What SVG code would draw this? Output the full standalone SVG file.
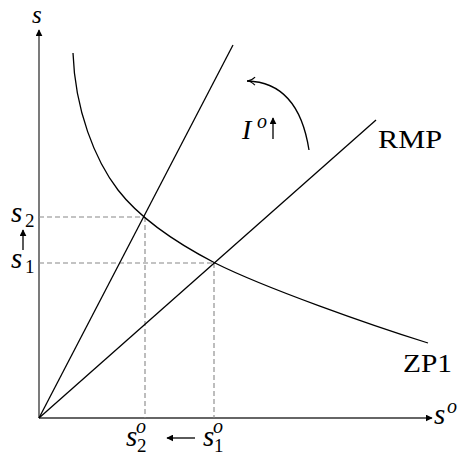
<svg xmlns="http://www.w3.org/2000/svg" width="463" height="458" viewBox="0 0 463 458">
<style>
.ln{fill:none;stroke:#000;stroke-width:1.3}
.ax{fill:none;stroke:#333;stroke-width:1.3}
.dash{fill:none;stroke:#888;stroke-width:1.1;stroke-dasharray:5,3}
text{font-family:'Liberation Serif','Times New Roman',Times,serif;fill:#000}
.i{font-style:italic}
</style>
<defs>
<marker id="ah" viewBox="0 0 10 10" refX="9" refY="5" markerWidth="7" markerHeight="7" orient="auto" markerUnits="userSpaceOnUse">
<path d="M0,0 L10,5 L0,10 z" fill="#000"/>
</marker>
<marker id="ao" viewBox="0 0 10 10" refX="9" refY="5" markerWidth="10" markerHeight="10" orient="auto" markerUnits="userSpaceOnUse">
<path d="M1,1 Q5,5 9,5 Q5,5 1,9" fill="none" stroke="#000" stroke-width="1.2"/>
</marker>
</defs>
<rect width="463" height="458" fill="#fff"/>
<g id="axes">
<line class="ax" x1="39" y1="418" x2="39" y2="30" marker-end="url(#ah)"/>
<line class="ax" x1="39" y1="418" x2="432" y2="418" marker-end="url(#ah)"/>
<text class="i" x="32" y="23" font-size="25">s</text>
<text class="i" x="434" y="424" font-size="29">s</text>
<text class="i" x="447" y="413" font-size="20">o</text>
</g>
<g id="connectors">
<line class="dash" x1="39" y1="217" x2="145" y2="217"/>
<line class="dash" x1="39" y1="263" x2="214" y2="263"/>
<line class="dash" x1="145" y1="217" x2="145" y2="418"/>
<line class="dash" x1="214" y1="263" x2="214" y2="418"/>
<line class="ln" x1="23" y1="250" x2="23" y2="230" marker-end="url(#ah)" stroke-width="1"/>
<line class="ln" x1="195" y1="438" x2="167" y2="438" marker-end="url(#ah)" stroke-width="1"/>
<line class="ln" x1="273" y1="139" x2="273" y2="118" marker-end="url(#ah)" stroke-width="1"/>
<path class="ln" d="M309,150 C304,118 290,82 247,81" marker-end="url(#ao)" stroke-width="1.1"/>
</g>
<g id="steep-line">
<line class="ln" x1="39" y1="418" x2="233" y2="45"/>
</g>
<g id="RMP">
<line class="ln" x1="39" y1="418" x2="376" y2="120"/>
<text x="378" y="148" font-size="25" textLength="64" lengthAdjust="spacingAndGlyphs">RMP</text>
</g>
<g id="ZP1">
<path class="ln" d="M73,53 C75,110 95,160 118,190 C135,212 165,237 215,263 C265,288 370,325 428,343"/>
<text x="403" y="372" font-size="25" textLength="49" lengthAdjust="spacingAndGlyphs">ZP1</text>
</g>
<g id="labels">
<text class="i" x="11" y="222" font-size="29">s</text>
<text x="25" y="227" font-size="19">2</text>
<text class="i" x="11" y="268" font-size="29">s</text>
<text x="25" y="273" font-size="19">1</text>
<text class="i" x="126" y="446" font-size="29">s</text>
<text x="137" y="452" font-size="19">2</text>
<text class="i" x="136" y="433" font-size="20">o</text>
<text class="i" x="203" y="446" font-size="29">s</text>
<text x="214" y="452" font-size="19">1</text>
<text class="i" x="213" y="433" font-size="20">o</text>
<text class="i" x="242" y="139" font-size="28">I</text>
<text class="i" x="257" y="128" font-size="20">o</text>
</g>
</svg>
